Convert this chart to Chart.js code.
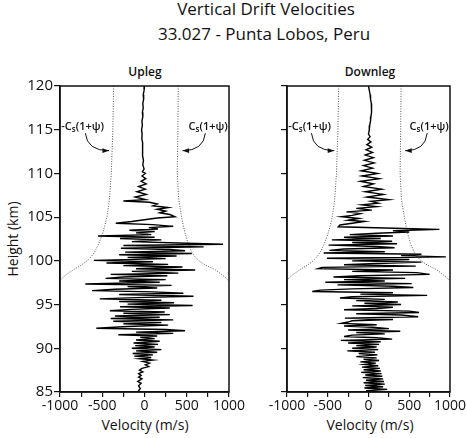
<!DOCTYPE html>
<html>
<head>
<meta charset="utf-8">
<script src="https://cdn.jsdelivr.net/npm/chart.js@4.4.1/dist/chart.umd.min.js"></script>
<style>
  html, body { margin: 0; padding: 0; background: #fff; }
  body { width: 467px; height: 438px; position: relative; overflow: hidden; font-family: "Open Sans", sans-serif; color: #111; }
  .cv { position: absolute; left: 0; top: 0; width: 467px; height: 438px; }
  .txt { position: absolute; white-space: nowrap; transform: translateX(-50%); }
</style>
</head>
<body>
<div class="txt" style="left:266px; top:-3px; font-size:17px;">Vertical Drift Velocities</div>
<div class="txt" style="left:264px; top:22px; font-size:17px;">33.027 - Punta Lobos, Peru</div>
<div class="txt" style="left:145px; top:63px; font-size:12px; font-weight:600;">Upleg</div>
<div class="txt" style="left:370px; top:63px; font-size:12px; font-weight:600;">Downleg</div>
<div class="txt" style="left:145px; top:415px; font-size:14px;">Velocity (m/s)</div>
<div class="txt" style="left:370px; top:415px; font-size:14px;">Velocity (m/s)</div>
<div style="position:absolute; left:12px; top:239px; font-size:14px; white-space:nowrap; transform: translate(-50%,-50%) rotate(-90deg);">Height (km)</div>
<div class="cv"><canvas id="c1" width="467" height="438"></canvas></div>
<div class="cv"><canvas id="c2" width="467" height="438"></canvas></div>
<script>
// ---- data ----
const heightTicks = [85, 90, 95, 100, 105, 110, 115, 120];
const velocityTickLabels = [-1000, -500, 0, 500, 1000];

const upHeights = [120.0,119.5,119.0,118.5,118.0,117.5,117.0,116.5,116.0,115.5,115.0,114.5,114.0,113.5,113.0,112.5,112.0,111.5,111.0,110.5,110.2,110.0,109.7,109.4,109.1,108.8,108.5,108.2,107.9,107.6,107.3,107.0,106.85,106.7,106.5,106.3,106.1,105.9,105.7,105.5,105.3,105.05,104.9,104.7,104.5,104.3,104.15,103.95,103.8,103.65,103.5,103.35,103.2,103.0,102.85,102.7,102.55,102.4,102.2,102.05,101.9,101.75,101.6,101.45,101.3,101.15,101.0,100.85,100.7,100.55,100.4,100.25,100.05,99.9,99.75,99.6,99.45,99.3,99.1,98.95,98.8,98.6,98.45,98.3,98.15,98.0,97.85,97.7,97.55,97.35,97.2,97.05,96.9,96.75,96.6,96.45,96.3,96.15,95.95,95.8,95.65,95.5,95.35,95.2,95.05,94.9,94.75,94.6,94.45,94.3,94.15,94.0,93.85,93.7,93.55,93.4,93.25,93.1,92.95,92.8,92.65,92.5,92.3,92.15,92.0,91.85,91.7,91.55,91.4,91.25,91.1,90.95,90.8,90.6,90.45,90.3,90.15,90.0,89.85,89.7,89.55,89.4,89.25,89.1,88.95,88.8,88.65,88.5,88.3,88.1,87.9,87.7,87.5,87.3,87.1,86.9,86.7,86.5,86.2,86.0,85.7,85.4,85.0];
const upVelocity = [0,-5,-15,-10,-20,-15,-25,-20,-30,-25,-35,-28,-32,-22,-28,-18,-22,-12,-20,-5,-25,10,-30,15,-40,20,-70,10,-90,20,-110,10,-250,60,150,100,280,150,250,180,300,360,150,0,-150,-340,100,340,50,160,-180,120,-100,80,-550,120,-290,200,-150,400,930,-250,700,-280,300,480,-230,560,-300,380,-200,250,-600,100,-450,280,-250,450,-100,600,-150,400,-400,270,-250,-460,250,-300,180,-700,320,-200,150,-350,-620,100,460,-300,580,-100,-530,200,-300,350,-200,570,-290,300,-150,-410,240,-250,300,-350,180,-400,340,-370,200,-250,280,-200,-570,250,480,-100,340,-310,150,-50,120,-100,180,-130,160,-110,120,-150,200,-100,150,-140,100,-120,80,-60,100,-20,60,10,50,-30,-60,-20,-70,-40,-70,-30,-80,-40,-70,-50,-80];

const downHeights = [120.0,119.5,119.0,118.5,118.0,117.5,117.0,116.5,116.0,115.5,115.0,114.5,114.2,113.9,113.6,113.3,113.0,112.7,112.4,112.1,111.8,111.5,111.2,110.9,110.6,110.3,110.0,109.7,109.4,109.1,108.8,108.5,108.2,107.9,107.6,107.3,107.0,106.8,106.6,106.4,106.2,106.0,105.8,105.6,105.4,105.2,105.05,104.85,104.65,104.5,104.3,104.1,103.9,103.75,103.6,103.45,103.3,103.15,103.0,102.85,102.7,102.55,102.4,102.25,102.1,101.95,101.8,101.65,101.5,101.35,101.2,101.05,100.9,100.75,100.6,100.45,100.3,100.15,100.0,99.85,99.7,99.55,99.4,99.25,99.1,98.95,98.8,98.65,98.45,98.3,98.15,98.0,97.85,97.7,97.55,97.4,97.25,97.1,96.95,96.8,96.65,96.5,96.35,96.2,96.05,95.9,95.75,95.6,95.45,95.3,95.15,95.0,94.85,94.7,94.55,94.4,94.25,94.1,93.95,93.8,93.6,93.45,93.3,93.15,93.0,92.85,92.7,92.55,92.4,92.25,92.1,91.95,91.8,91.65,91.5,91.35,91.2,91.05,90.9,90.75,90.6,90.45,90.3,90.15,90.0,89.85,89.7,89.55,89.4,89.25,89.05,88.9,88.75,88.6,88.45,88.3,88.15,88.0,87.85,87.7,87.55,87.4,87.25,87.1,86.95,86.8,86.65,86.5,86.35,86.2,86.05,85.9,85.75,85.6,85.45,85.3,85.15,85.0];
const downVelocity = [0,10,20,25,35,40,35,30,25,15,10,0,20,-10,30,-20,40,-30,50,-40,60,-50,70,-60,50,-90,110,-80,130,-100,60,-60,160,-40,180,-20,250,30,120,-80,100,-150,40,-270,-100,-200,-330,-120,-250,-50,-200,-350,-370,200,870,300,500,100,-230,300,-300,150,-450,290,-200,350,-490,100,320,-300,-480,200,-550,650,400,950,-510,500,-200,650,100,-300,580,-570,-620,300,-200,590,750,-100,-430,450,-300,200,-530,530,-380,300,550,-200,-590,-690,300,-100,720,-200,-350,200,-150,360,-50,400,-200,300,100,-300,500,620,-150,400,610,-290,300,-200,-250,-330,100,-300,50,250,-250,390,-150,200,-200,-300,100,290,-340,150,-250,130,-150,100,-200,120,-260,80,-120,110,-150,100,-60,130,-100,90,-50,120,-80,140,-60,150,-90,160,-40,170,-70,180,-30,190,-60,200,-40,180,-50,230,-30,100];

// sound-speed limit curves  -Cs(1+psi) and +Cs(1+psi)
const csHeights = [120, 115, 110, 107, 105, 104, 103, 102, 101, 100.5, 100, 99.5, 99, 98.5, 98, 97.7];
const csMinus = [-365, -375, -393, -415, -445, -470, -500, -540, -590, -630, -680, -750, -840, -915, -980, -1000];
const csPlus = [400, 395, 388, 405, 440, 460, 485, 515, 560, 595, 645, 725, 835, 905, 970, 1000];

// ---- helpers ----
const pts = (hs, vs) => hs.map((h, i) => ({ x: vs[i], y: h }));
const FONT = '"Open Sans", sans-serif';

const framePlugin = {
  id: 'frame',
  afterDraw(chart) {
    const { ctx, chartArea: a, scales } = chart;
    ctx.save();
    ctx.strokeStyle = '#111';
    ctx.lineWidth = 1.5;
    ctx.strokeRect(a.left, a.top, a.right - a.left, a.bottom - a.top);
    // annotations
    const X = v => scales.x.getPixelForValue(v);
    const Y = h => scales.y.getPixelForValue(h);
    ctx.fillStyle = '#111';
    function label(v, h, align, neg) {
      const big = '600 11px ' + FONT, small = '600 8px ' + FONT;
      const parts = [[neg ? '-C' : 'C', big, 0], ['s', small, 3], ['(1+ψ)', big, 0]];
      let w = 0;
      parts.forEach(p => { ctx.font = p[1]; w += ctx.measureText(p[0]).width; });
      let x = align === 'left' ? X(v) : X(v) - w;
      const y = Y(h);
      ctx.textBaseline = 'middle';
      ctx.textAlign = 'left';
      parts.forEach(p => { ctx.font = p[1]; ctx.fillText(p[0], x, y + p[2]); x += ctx.measureText(p[0]).width; });
    }
    function arrow(v0, h0, vc, hc, v1, h1) {
      const x0 = X(v0), y0 = Y(h0), cx = X(vc), cy = Y(hc), x1 = X(v1), y1 = Y(h1);
      ctx.lineWidth = 1;
      ctx.beginPath();
      ctx.moveTo(x0, y0);
      ctx.quadraticCurveTo(cx, cy, x1, y1);
      ctx.stroke();
      const ang = Math.atan2(y1 - cy, x1 - cx);
      ctx.beginPath();
      ctx.moveTo(x1, y1);
      ctx.lineTo(x1 - 7 * Math.cos(ang - 0.35), y1 - 7 * Math.sin(ang - 0.35));
      ctx.lineTo(x1 - 7 * Math.cos(ang + 0.35), y1 - 7 * Math.sin(ang + 0.35));
      ctx.closePath();
      ctx.fill();
    }
    label(-985, 115.3, 'left', true);
    label(985, 115.3, 'right', false);
    arrow(-700, 114.6, -680, 112.6, -420, 112.6);
    arrow(720, 114.6, 700, 112.6, 450, 112.6);
    ctx.restore();
  }
};

function makeChart(id, hs, vs, opts) {
  return new Chart(document.getElementById(id), {
    type: 'scatter',
    data: {
      datasets: [
        { data: pts(hs, vs), showLine: true, borderColor: '#000', borderWidth: 1.4, pointRadius: 0, tension: 0 },
        { data: pts(csHeights, csMinus), showLine: true, borderColor: '#555', borderWidth: 1, borderDash: [1, 1.5], pointRadius: 0 },
        { data: pts(csHeights, csPlus), showLine: true, borderColor: '#555', borderWidth: 1, borderDash: [1, 1.5], pointRadius: 0 }
      ]
    },
    options: {
      responsive: false,
      animation: false,
      events: [],
      layout: { padding: { left: 0, right: opts.padRight, top: 86, bottom: 0 } },
      plugins: { legend: { display: false }, tooltip: { enabled: false } },
      scales: {
        x: {
          type: 'linear', min: -1000, max: 1000,
          afterFit(s) { s.height = 46; },
          border: { display: true, color: '#111', width: 1.5 },
          grid: { drawOnChartArea: false, drawTicks: true, tickLength: 5, color: '#111', lineWidth: 1.2 },
          ticks: {
            stepSize: 250, padding: 1, color: '#111', maxRotation: 0, autoSkip: false,
            font: { family: FONT, size: 14 },
            callback: v => velocityTickLabels.includes(v) ? String(v) : ''
          }
        },
        y: {
          type: 'linear', min: 85, max: 120,
          afterFit(s) { s.width = opts.yWidth; },
          border: { display: true, color: '#111', width: 1.5 },
          grid: { drawOnChartArea: false, drawTicks: true, tickLength: 6, color: '#111', lineWidth: 1.2 },
          ticks: {
            stepSize: 5, padding: 1, color: '#111', autoSkip: false,
            font: { family: FONT, size: 15 },
            callback: v => (opts.showY && heightTicks.includes(v)) ? String(v) : ''
          }
        }
      }
    },
    plugins: [framePlugin]
  });
}

makeChart('c1', upHeights, upVelocity, { padRight: 238, yWidth: 60, showY: true });
makeChart('c2', downHeights, downVelocity, { padRight: 13, yWidth: 287, showY: false });
</script>
</body>
</html>
